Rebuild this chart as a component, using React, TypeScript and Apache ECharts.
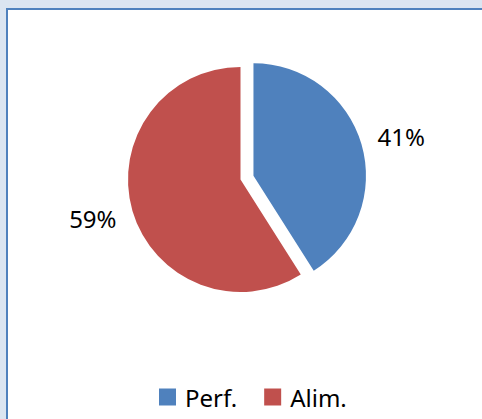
import React, { useEffect, useRef } from "react";
import * as echarts from "echarts";

const categories = ["Perf.", "Alim."];
const values = [41, 59];
const colors = ["#4f81bd", "#c0504d"];

export default function App() {
  const ref = useRef<HTMLDivElement>(null);
  useEffect(() => {
    const chart = echarts.init(ref.current!, null, { renderer: "svg" });
    chart.setOption({
      animation: false,
      backgroundColor: "#dbe5f1",
      graphic: [
        {
          type: "rect",
          z: -10,
          shape: { x: 7, y: 9, width: 520, height: 460 },
          style: { fill: "#ffffff", stroke: "#4f81bd", lineWidth: 2 },
          silent: true,
        },
      ],
      legend: {
        data: categories,
        bottom: 5,
        left: 154,
        icon: "rect",
        itemWidth: 17,
        itemHeight: 17,
        itemGap: 27,
        selectedMode: false,
        textStyle: {
          fontFamily: "Noto Sans",
          fontSize: 24,
          color: "#000",
          padding: [0, 0, 0, 4],
        },
      },
      series: [
        {
          type: "pie",
          center: [240.5, 179.5],
          radius: 112.5,
          startAngle: 90,
          clockwise: true,
          selectedMode: "multiple",
          selectedOffset: 13.5,
          emphasis: { disabled: true },
          label: {
            show: true,
            position: "outside",
            formatter: "{d}%",
            fontFamily: "Noto Sans",
            fontSize: 24,
            color: "#000",
          },
          labelLine: { show: false, length: 27, length2: -15 },
          data: categories.map((c, i) => ({
            name: c,
            value: values[i],
            selected: i === 0,
            itemStyle: { color: colors[i] },
          })),
        },
      ],
    });
    return () => chart.dispose();
  }, []);
  return (
    <div
      ref={ref}
      style={{ position: "fixed", left: 0, top: 0, width: 482, height: 419 }}
    />
  );
}
